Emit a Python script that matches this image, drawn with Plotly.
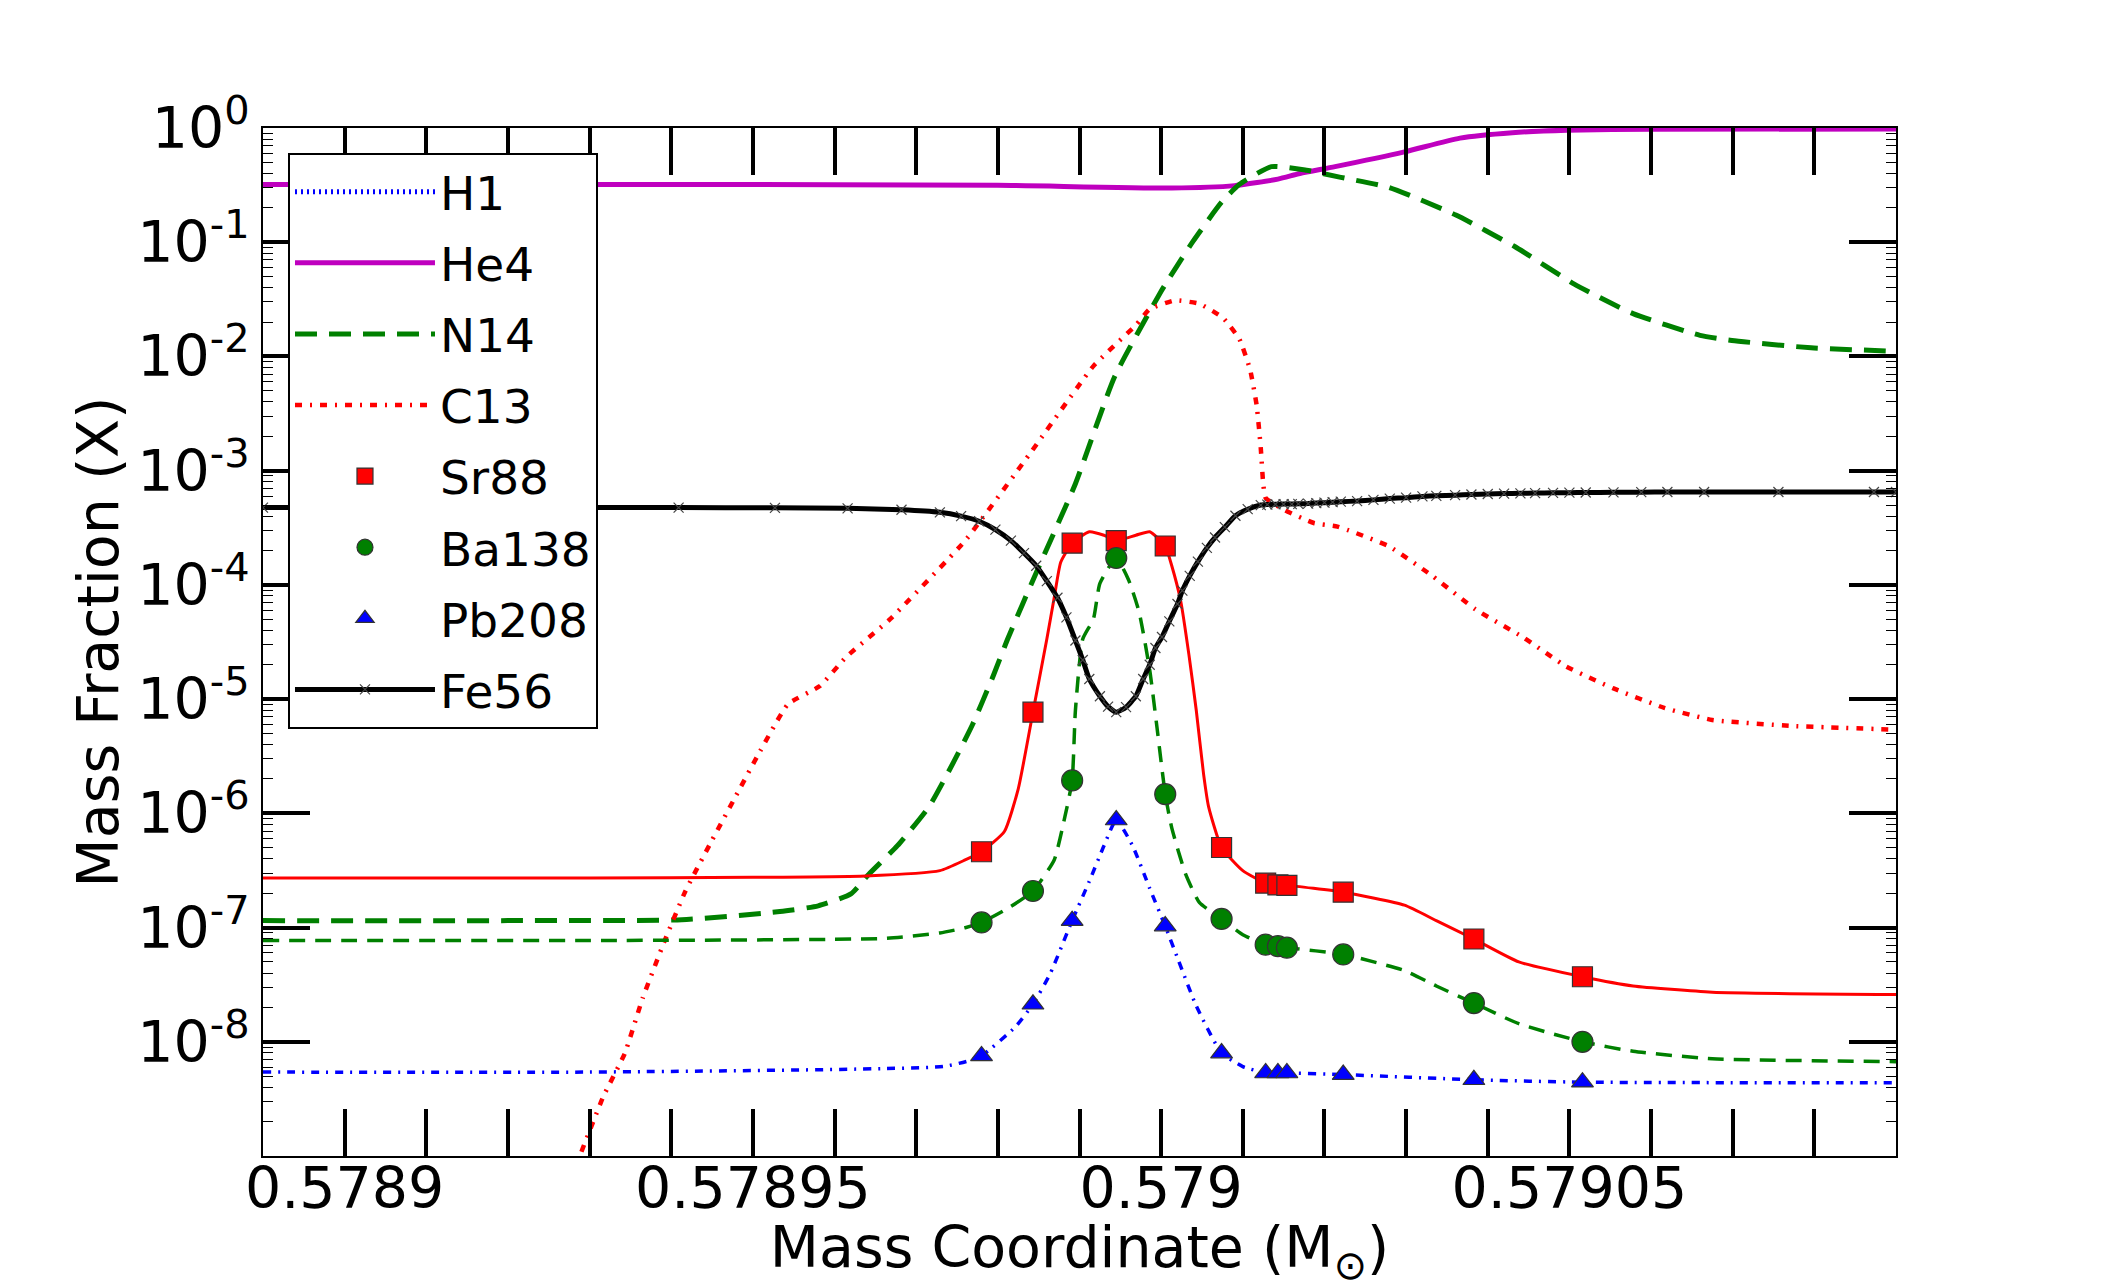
import plotly.graph_objects as go

# ---------------- data ----------------
# H1 lies below the plotted range everywhere (only appears in the legend)
h1_x = [0.57889, 0.57909]
h1_y = [1e-12, 1e-12]

he4_x = [0.57889, 0.57893, 0.57896, 0.57898, 0.5790013, 0.579009, 0.5790143, 0.579017,
         0.5790213, 0.5790298, 0.5790366, 0.579043, 0.5790497, 0.57906, 0.57909]
he4_y = [0.32, 0.32, 0.319, 0.315, 0.298, 0.313, 0.357, 0.40,
         0.459, 0.618, 0.816, 0.91, 0.957, 0.975, 0.98]

n14_x = [0.57889, 0.57892, 0.5789413, 0.5789533, 0.578958, 0.578962, 0.5789642, 0.5789677,
         0.5789716, 0.5789747, 0.5789769, 0.5789795, 0.5789812, 0.5789847, 0.5789895,
         0.5789943, 0.579, 0.5790039, 0.5790074, 0.5790096, 0.5790135, 0.5790178, 0.579022,
         0.5790279, 0.5790361, 0.5790433, 0.5790506, 0.5790578, 0.579066, 0.5790699,
         0.5790796, 0.57909]
n14_y = [1.15e-7, 1.15e-7, 1.17e-7, 1.38e-7, 1.55e-7, 1.97e-7, 2.93e-7, 5.21e-7,
         1.15e-6, 2.92e-6, 5.99e-6, 1.64e-5, 3.36e-5, 1.28e-4, 7.69e-4,
         6.64e-3, 3.72e-2, 0.1016, 0.224, 0.321, 0.459, 0.427, 0.37,
         0.302, 0.173, 9.17e-2, 4.3e-2, 2.37e-2, 1.53e-2, 1.38e-2,
         1.19e-2, 1.11e-2]

c13_x = [0.578929, 0.5789317, 0.5789343, 0.5789365, 0.5789391, 0.5789417, 0.5789447,
         0.5789478, 0.5789509, 0.5789543, 0.5789582, 0.5789614, 0.5789668, 0.578976,
         0.5789838, 0.5789917, 0.5789969, 0.5789986, 0.5790017, 0.5790047, 0.5790076,
         0.5790096, 0.5790109, 0.5790117, 0.5790122, 0.5790125, 0.5790128, 0.5790152,
         0.5790187, 0.5790216, 0.5790279, 0.5790332, 0.5790385, 0.5790443, 0.5790496,
         0.5790554, 0.5790617, 0.5790675, 0.5790771, 0.57909]
c13_y = [1.09e-9, 3.34e-9, 7.87e-9, 2.41e-8, 7.37e-8, 2.06e-7, 5.31e-7,
         1.37e-6, 3.52e-6, 9.06e-6, 1.3e-5, 2.33e-5, 5.01e-5, 2.44e-4,
         1.37e-3, 8.23e-3, 1.88e-2, 2.6e-2, 3.1e-2, 2.89e-2, 2.17e-2,
         1.41e-2, 7.65e-3, 3.73e-3, 1.58e-3, 7.69e-4, 5.77e-4, 4.48e-4,
         3.48e-4, 3.24e-4, 2.18e-4, 1.2e-4, 6.1e-5, 3.49e-5, 1.93e-5,
         1.24e-5, 8.34e-6, 6.57e-6, 5.83e-6, 5.4e-6]

# Sr88 / Ba138 / Pb208 : profile lines
sr88_x = [0.57889, 0.57893, 0.57895, 0.5789638, 0.5789729, 0.578976, 0.578978, 0.5789808,
          0.5789825, 0.5789843, 0.578986, 0.5789869, 0.5789877, 0.5789891, 0.5789912,
          0.578993, 0.5789945, 0.5789969, 0.5789986, 0.5790005, 0.5790013, 0.5790024,
          0.5790034, 0.5790043, 0.5790052, 0.5790058, 0.5790074, 0.57901, 0.5790128,
          0.5790143, 0.5790154, 0.5790223, 0.5790298, 0.5790337, 0.5790383, 0.5790438,
          0.5790516, 0.5790578, 0.5790675, 0.57909]
sr88_y = [2.72e-7, 2.72e-7, 2.75e-7, 2.83e-7, 3.15e-7, 3.91e-7, 4.61e-7, 6.93e-7,
          1.64e-6, 7.69e-6, 3.36e-5, 7.7e-5, 1.58e-4, 2.32e-4, 2.92e-4,
          2.72e-4, 2.44e-4, 2.72e-4, 2.92e-4, 2.19e-4, 1.47e-4, 7.2e-5,
          2.45e-5, 7.98e-6, 2.19e-6, 1.15e-6, 5.02e-7, 3.15e-7, 2.45e-7,
          2.36e-7, 2.34e-7, 2.04e-7, 1.57e-7, 1.15e-7, 7.94e-8, 5.0e-8,
          3.71e-8, 3.08e-8, 2.72e-8, 2.59e-8]

ba138_x = [0.57889, 0.57893, 0.5789664, 0.5789729, 0.578976, 0.578978, 0.5789816, 0.5789843,
           0.5789869, 0.5789882, 0.5789891, 0.5789895, 0.5789904, 0.5789917, 0.5789925,
           0.5789945, 0.578996, 0.5789973, 0.5789986, 0.5789995, 0.5790005, 0.5790013,
           0.579003, 0.5790047, 0.5790074, 0.57901, 0.5790128, 0.5790143, 0.5790154,
           0.5790223, 0.5790298, 0.5790337, 0.5790383, 0.5790438, 0.5790516, 0.5790578,
           0.5790675, 0.57909]
ba138_y = [7.7e-8, 7.7e-8, 8.05e-8, 8.97e-8, 9.97e-8, 1.11e-7, 1.53e-7, 2.09e-7,
           3.91e-7, 9.25e-7, 1.94e-6, 7.98e-6, 3.36e-5, 5.01e-5, 1.03e-4,
           1.72e-4, 1.11e-4, 5.79e-5, 1.8e-5, 5.57e-6, 1.47e-6, 7.45e-7,
           2.93e-7, 1.65e-7, 1.19e-7, 8.65e-8, 7.08e-8, 6.87e-8, 6.67e-8,
           5.82e-8, 4.2e-8, 3.08e-8, 2.18e-8, 1.44e-8, 1.0e-8, 8.26e-9,
           7.1e-9, 6.7e-9]

pb208_x = [0.57889, 0.57893, 0.5789733, 0.5789764, 0.578978, 0.5789821, 0.5789843, 0.5789864,
           0.5789891, 0.5789912, 0.578993, 0.5789945, 0.5789965, 0.5789986, 0.5790005,
           0.5790021, 0.5790043, 0.5790074, 0.57901, 0.5790128, 0.5790143, 0.5790154,
           0.5790223, 0.5790383, 0.5790516, 0.57909]
pb208_y = [5.43e-9, 5.43e-9, 6.07e-9, 6.8e-9, 7.52e-9, 1.34e-8, 2.13e-8, 3.93e-8,
           1.15e-7, 2.54e-7, 5.2e-7, 8.74e-7, 5.2e-7, 2.2e-7, 1.03e-7,
           5.2e-8, 2.06e-8, 7.97e-9, 6.07e-9, 5.33e-9, 5.33e-9, 5.33e-9,
           5.16e-9, 4.65e-9, 4.43e-9, 4.37e-9]

# marker samples (shared mass coordinates)
mk_x = [0.578978, 0.5789843, 0.5789891, 0.5789945, 0.5790005, 0.5790074,
        0.5790128, 0.5790143, 0.5790154, 0.5790223, 0.5790383, 0.5790516]
sr88_mk = [4.61e-7, 7.69e-6, 2.32e-4, 2.44e-4, 2.19e-4, 5.02e-7,
           2.45e-7, 2.36e-7, 2.34e-7, 2.04e-7, 7.94e-8, 3.71e-8]
ba138_mk = [1.11e-7, 2.09e-7, 1.94e-6, 1.72e-4, 1.47e-6, 1.19e-7,
            7.08e-8, 6.87e-8, 6.67e-8, 5.82e-8, 2.18e-8, 1.0e-8]
pb208_mk = [7.52e-9, 2.13e-8, 1.15e-7, 8.74e-7, 1.03e-7, 7.97e-9,
            5.33e-9, 5.33e-9, 5.33e-9, 5.16e-9, 4.65e-9, 4.43e-9]

fe56_x = [0.57889, 0.5789161, 0.5789409, 0.5789527, 0.5789616, 0.5789682, 0.5789729,
          0.5789755, 0.5789777, 0.5789797, 0.5789816, 0.5789832, 0.5789847, 0.578986,
          0.5789873, 0.5789884, 0.5789895, 0.5789904, 0.5789912, 0.5789925, 0.5789935,
          0.5789945, 0.5789957, 0.5789969, 0.5789978, 0.5789986, 0.5789993, 0.5790001,
          0.579001, 0.579002, 0.5790026, 0.5790035, 0.5790045, 0.5790056, 0.5790066,
          0.5790078, 0.5790091, 0.5790106, 0.5790122, 0.579013, 0.579014, 0.579015,
          0.579016, 0.5790168, 0.579018, 0.579019, 0.57902, 0.579021, 0.579022,
          0.579024, 0.579026, 0.579028, 0.57903, 0.579032, 0.5790337, 0.579036,
          0.579038, 0.57904, 0.579042, 0.579044, 0.5790458, 0.579048, 0.57905,
          0.579052, 0.5790554, 0.5790588, 0.579062, 0.5790665, 0.5790756, 0.5790873,
          0.57909]
fe56_y = [4.75e-4, 4.75e-4, 4.75e-4, 4.73e-4, 4.68e-4, 4.55e-4, 4.32e-4,
          4.0e-4, 3.61e-4, 3.05e-4, 2.44e-4, 1.9e-4, 1.47e-4, 1.08e-4,
          7.71e-5, 5.2e-5, 3.26e-5, 2.2e-5, 1.5e-5, 1.06e-5, 8.6e-6,
          7.69e-6, 8.5e-6, 1.06e-5, 1.5e-5, 2.0e-5, 2.8e-5, 3.5e-5,
          4.8e-5, 6.8e-5, 8.91e-5, 1.2e-4, 1.6e-4, 2.11e-4, 2.6e-4,
          3.2e-4, 4.03e-4, 4.6e-4, 5.0e-4, 5.05e-4, 5.08e-4, 5.1e-4,
          5.1e-4, 5.12e-4, 5.15e-4, 5.2e-4, 5.25e-4, 5.3e-4, 5.35e-4,
          5.42e-4, 5.55e-4, 5.7e-4, 5.8e-4, 5.95e-4, 6.02e-4, 6.1e-4,
          6.18e-4, 6.25e-4, 6.3e-4, 6.33e-4, 6.36e-4, 6.4e-4, 6.42e-4,
          6.44e-4, 6.46e-4, 6.48e-4, 6.5e-4, 6.5e-4, 6.5e-4, 6.5e-4,
          6.5e-4]

x_range = [0.57889, 0.57909]
x_tick_step = 1e-5
x_label_vals = [0.5789, 0.57895, 0.579, 0.57905]
x_label_text = ["0.5789", "0.57895", "0.579", "0.57905"]
y_decades = [-8, -7, -6, -5, -4, -3, -2, -1, 0]

# ---------------- figure ----------------
FONT = "DejaVu Sans"
fig = go.Figure()

fig.add_trace(go.Scatter(x=h1_x, y=h1_y, name="H1", mode="lines", legendgroup="H1",
                         line=dict(color="#0000ff", width=5, dash="2px,4px")))
fig.add_trace(go.Scatter(x=he4_x, y=he4_y, name="He4", mode="lines", legendgroup="He4",
                         line=dict(color="#bf00bf", width=5, shape="spline", smoothing=0.6)))
fig.add_trace(go.Scatter(x=n14_x, y=n14_y, name="N14", mode="lines", legendgroup="N14",
                         line=dict(color="#008000", width=5, dash="22px,12px",
                                   shape="spline", smoothing=0.5)))
fig.add_trace(go.Scatter(x=c13_x, y=c13_y, name="C13", mode="lines", legendgroup="C13",
                         line=dict(color="#ff0000", width=4.5, dash="7px,8px,2px,8px",
                                   shape="spline", smoothing=0.4)))

fig.add_trace(go.Scatter(x=sr88_x, y=sr88_y, mode="lines", showlegend=False, hoverinfo="skip",
                         line=dict(color="#ff0000", width=3, shape="spline", smoothing=0.5)))
fig.add_trace(go.Scatter(x=ba138_x, y=ba138_y, mode="lines", showlegend=False, hoverinfo="skip",
                         line=dict(color="#008000", width=3.5, dash="16px,10px",
                                   shape="spline", smoothing=0.5)))
fig.add_trace(go.Scatter(x=pb208_x, y=pb208_y, mode="lines", showlegend=False, hoverinfo="skip",
                         line=dict(color="#0000ff", width=3.5, dash="8px,7px,2px,7px",
                                   shape="spline", smoothing=0.5)))

fig.add_trace(go.Scatter(x=mk_x, y=sr88_mk, name="Sr88", mode="markers", legendgroup="Sr88",
                         marker=dict(symbol="square", size=20, color="#ff0000",
                                     line=dict(width=1.2, color="#333333"))))
fig.add_trace(go.Scatter(x=mk_x, y=ba138_mk, name="Ba138", mode="markers", legendgroup="Ba138",
                         marker=dict(symbol="circle", size=21, color="#008000",
                                     line=dict(width=1.2, color="#333333"))))
fig.add_trace(go.Scatter(x=mk_x, y=pb208_mk, name="Pb208", mode="markers", legendgroup="Pb208",
                         marker=dict(symbol="triangle-up", size=19, color="#0000ff",
                                     line=dict(width=1.2, color="#333333"))))

fig.add_trace(go.Scatter(x=fe56_x, y=fe56_y, name="Fe56", mode="lines+markers", legendgroup="Fe56",
                         line=dict(color="black", width=5, shape="spline", smoothing=0.5),
                         marker=dict(symbol="x-thin", size=10, color="#444444",
                                     line=dict(width=1.2, color="#444444"))))

n_ticks = int(round((x_range[1] - x_range[0]) / x_tick_step))
x_tickvals = [round(x_range[0] + i * x_tick_step, 8) for i in range(n_ticks + 1)]
x_ticktext = []
for v in x_tickvals:
    lab = ""
    for lv, lt in zip(x_label_vals, x_label_text):
        if abs(v - lv) < 1e-9:
            lab = lt
    x_ticktext.append(lab)

y_tickvals = [10.0 ** d for d in y_decades]
y_ticktext = ["10<sup>%d</sup>" % d for d in y_decades]
y_minor = [m * 10.0 ** d for d in range(-9, 0) for m in range(2, 10)]

fig.update_layout(
    width=2109, height=1288,
    margin=dict(l=263, r=213, t=128, b=132, pad=0),
    paper_bgcolor="white", plot_bgcolor="white",
    font=dict(family=FONT, size=57, color="black"),
    showlegend=True,
    legend=dict(x=0.0153, y=0.976, xanchor="left", yanchor="top",
                bgcolor="white", bordercolor="black", borderwidth=2,
                font=dict(family=FONT, size=47, color="black"),
                itemwidth=140, traceorder="grouped", tracegroupgap=7),
)

fig.update_xaxes(
    range=x_range, tickmode="array", tickvals=x_tickvals, ticktext=x_ticktext,
    ticks="inside", ticklen=47, tickwidth=4, tickcolor="black",
    showline=True, linecolor="black", linewidth=2, mirror="ticks",
    showgrid=False, zeroline=False, automargin=False,
    ticklabelstandoff=-18,
    tickfont=dict(family=FONT, size=57),
    title=dict(text="Mass Coordinate (M<sub>⊙</sub>)", font=dict(family=FONT, size=57), standoff=20),
)
fig.update_yaxes(
    type="log", range=[-9, 0], tickmode="array", tickvals=y_tickvals, ticktext=y_ticktext,
    ticks="inside", ticklen=47, tickwidth=4, tickcolor="black",
    minor=dict(tickmode="array", tickvals=y_minor, ticks="inside", ticklen=10,
               tickwidth=1.2, tickcolor="black", showgrid=False),
    showline=True, linecolor="black", linewidth=2, mirror="ticks",
    showgrid=False, zeroline=False, automargin=False,
    tickfont=dict(family=FONT, size=57),
    title=dict(text="Mass Fraction (X)", font=dict(family=FONT, size=57), standoff=0),
)

fig.write_html("out.html", config={"displayModeBar": False},
               post_script="document.body.style.margin='0';document.body.style.overflow='hidden';")
